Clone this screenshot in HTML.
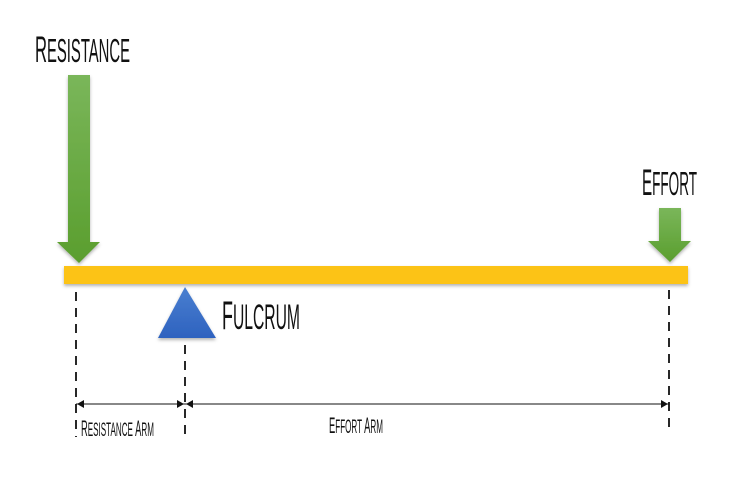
<!DOCTYPE html>
<html><head><meta charset="utf-8"><style>
html,body{margin:0;padding:0;background:#fff;width:736px;height:488px;overflow:hidden}
text{font-family:"Liberation Sans",sans-serif;fill:#111}
</style></head><body>
<svg width="736" height="488" viewBox="0 0 736 488" xmlns="http://www.w3.org/2000/svg">
<defs>
<linearGradient id="g" x1="0" y1="0" x2="0" y2="1"><stop offset="0" stop-color="#7ab65a"/><stop offset="1" stop-color="#5a9e2e"/></linearGradient>
<linearGradient id="b" x1="0" y1="0" x2="0" y2="1"><stop offset="0" stop-color="#4a7fd0"/><stop offset="1" stop-color="#2e62bf"/></linearGradient>
<filter id="s" x="-20%" y="-20%" width="140%" height="160%"><feDropShadow dx="0" dy="2" stdDeviation="1.5" flood-color="#000" flood-opacity="0.3"/></filter>
</defs>
<text x="35" y="62" font-size="33" textLength="95" lengthAdjust="spacingAndGlyphs"><tspan font-size="37">R</tspan>ESISTANCE</text>
<text x="642" y="195" font-size="33" textLength="55" lengthAdjust="spacingAndGlyphs"><tspan font-size="37">E</tspan>FFORT</text>
<text x="222" y="329" font-size="35" textLength="78" lengthAdjust="spacingAndGlyphs"><tspan font-size="40">F</tspan>ULCRUM</text>
<path d="M68 75 H90 V242 H100 L79 263 L57 242 H68 Z" fill="url(#g)" filter="url(#s)"/>
<path d="M659 208 H681 V241 H691 L670 262 L648 241 H659 Z" fill="url(#g)" filter="url(#s)"/>
<rect x="64" y="266" width="624" height="18" fill="#fcc312" filter="url(#s)"/>
<path d="M185 287 L216 338 H158 Z" fill="url(#b)" filter="url(#s)"/>
<g stroke="#111" stroke-width="1.8" stroke-dasharray="9,7">
<line x1="76" y1="292" x2="76" y2="437"/>
<line x1="185" y1="345" x2="185" y2="437"/>
<line x1="669" y1="290" x2="669" y2="432"/>
</g>
<g stroke="#111" stroke-width="1">
<line x1="76" y1="404" x2="185" y2="404"/>
<line x1="185" y1="404" x2="669" y2="404"/>
</g>
<g fill="#111">
<path d="M77 404 L84 400 V408 Z"/><path d="M184 404 L177 400 V408 Z"/>
<path d="M186 404 L193 400 V408 Z"/><path d="M668 404 L661 400 V408 Z"/>
</g>
<text x="81" y="436" font-size="19" textLength="73" lengthAdjust="spacingAndGlyphs"><tspan font-size="22">R</tspan>ESISTANCE <tspan font-size="22">A</tspan>RM</text>
<text x="329" y="433" font-size="19" textLength="54" lengthAdjust="spacingAndGlyphs"><tspan font-size="22">E</tspan>FFORT <tspan font-size="22">A</tspan>RM</text>
</svg>
</body></html>
